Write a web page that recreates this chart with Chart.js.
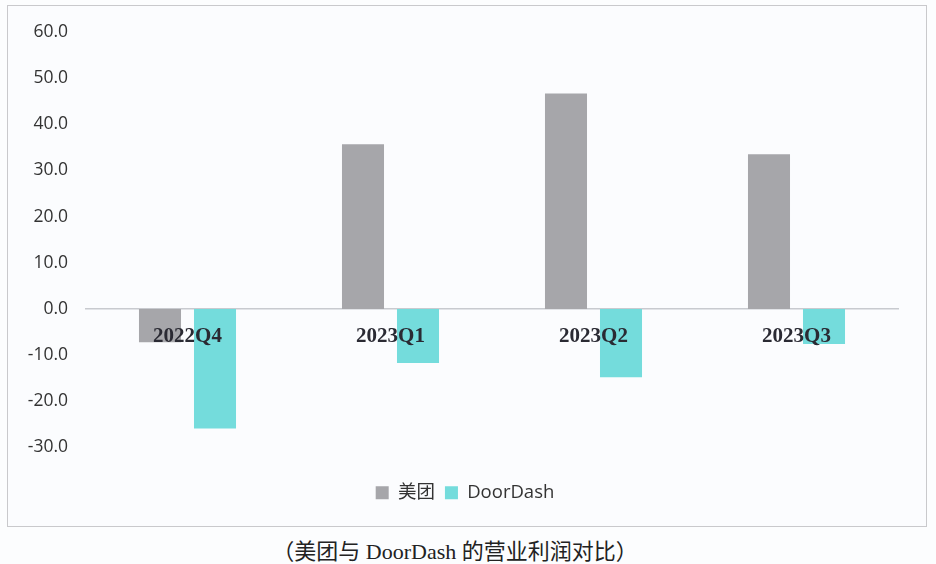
<!DOCTYPE html>
<html>
<head>
<meta charset="utf-8">
<script src="https://cdn.jsdelivr.net/npm/chart.js@4.4.0/dist/chart.umd.min.js"></script>
<style>
	body { margin: 0; background: #fcfdfe; }
	#frame {
		position: absolute; left: 7px; top: 5px; width: 918px; height: 520px;
		border: 1px solid #c9c9cc; background: #fbfcfe;
	}
	#caption {
		position: absolute; left: 0; top: 533px; width: 910px; text-align: center;
		font-family: 'Liberation Serif', 'Noto Sans CJK SC', serif; font-size: 22px; color: #222;
	}
</style>
</head>
<body>
<div id="frame"><canvas id="myChart" width="918" height="520"></canvas></div>
<div id="caption">（美团与 DoorDash 的营业利润对比）</div>
<script>
const categories = ['2022Q4', '2023Q1', '2023Q2', '2023Q3']
const meituan = [-7.2, 35.7, 46.7, 33.5]
const doordash = [-25.9, -11.7, -14.8, -7.6]
const yTicks = [-30, -20, -10, 0, 10, 20, 30, 40, 50, 60]

const ctx = document.getElementById('myChart')
const chart = new Chart(ctx, {
	type: 'bar',
	data: {
		labels: categories,
		datasets: [
			{
				label: '美团',
				data: meituan,
				backgroundColor: '#a6a6aa',
				categoryPercentage: 0.542,
				barPercentage: 0.764,
			},
			{
				label: 'DoorDash',
				data: doordash,
				backgroundColor: '#74dcdc',
				categoryPercentage: 0.542,
				barPercentage: 0.764,
			},
		],
	},
	options: {
		responsive: false,
		animation: false,
		layout: {
			padding: {top: 26, right: 4, bottom: 14, left: 0},
		},
		plugins: {
			tooltip: {enabled: false},
			legend: {
				position: 'bottom',
				labels: {
					boxWidth: 13,
					boxHeight: 13,
					padding: 10,
					color: '#333',
					font: {family: "'Open Sans', 'Noto Sans CJK SC', sans-serif", size: 18.5},
				},
			},
		},
		scales: {
			x: {
				position: {y: 0},
				grid: {display: false},
				border: {display: true, color: '#c8cacf', width: 1.5},
				ticks: {
					z: 1,
					color: '#2a2a33',
					padding: 7,
					font: {family: "'Liberation Serif', serif", size: 21, weight: 'bold'},
				},
			},
			pad: {
				type: 'category',
				labels: categories,
				position: 'bottom',
				grid: {display: false},
				border: {display: false},
				ticks: {display: false},
				afterFit: (scale) => {
					scale.height = 26
				},
			},
			y: {
				min: -30,
				max: 60,
				grid: {display: false},
				border: {display: false},
				afterBuildTicks: (scale) => {
					scale.ticks = yTicks.map((v) => ({value: v}))
				},
				afterFit: (scale) => {
					scale.width = 78
				},
				ticks: {
					color: '#333',
					padding: 10,
					font: {family: "'Open Sans', sans-serif", size: 17.5},
					callback: (v) => v.toFixed(1),
				},
			},
			padRight: {
				type: 'linear',
				position: 'right',
				grid: {display: false},
				border: {display: false},
				ticks: {display: false},
				afterFit: (scale) => {
					scale.width = 24
				},
			},
		},
	},
})
</script>
</body>
</html>
